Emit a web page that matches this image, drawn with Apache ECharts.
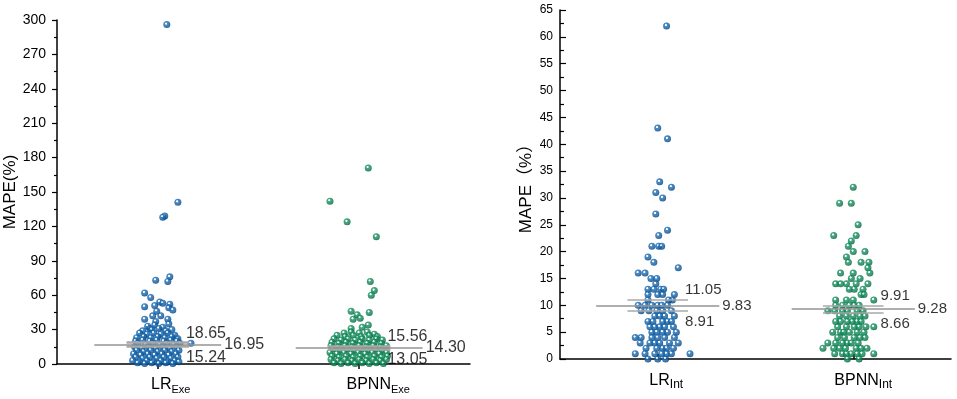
<!DOCTYPE html>
<html>
<head>
<meta charset="utf-8">
<script src="https://cdn.jsdelivr.net/npm/echarts@6/dist/echarts.min.js"></script>
<style>
  html, body { margin: 0; background: #fff; }
  #chart { width: 957px; height: 399px; }
</style>
</head>
<body>
<div id="chart"></div>
<script>
// category positions on the x value axis
const catPos = [1, 3]
const catNames = ['LR', 'BPNN']
const exeSub = 'Exe'
const intSub = 'Int'

// statistics: mean, upper and lower confidence bound
const exeMean = [16.95, 14.30]
const exeUpper = [18.65, 15.56]
const exeLower = [15.24, 13.05]
const intMean = [9.83, 9.28]
const intUpper = [11.05, 9.91]
const intLower = [8.91, 8.66]

// points: [jitter around category, MAPE]
const lrExe = [
  [0.09, 296], [0.20, 141], [0.07, 129], [0.05, 128], [0.12, 76], [-0.02, 73], [0.10, 72],
  [-0.13, 62], [-0.07, 58], [0.02, 54], [0.05, 53], [0.12, 52], [-0.03, 51], [-0.13, 50],
  [0.11, 49], [0.15, 47], [-0.01, 46], [-0.05, 42], [0.03, 42], [-0.13, 39], [0.10, 39],
  [-0.02, 37], [0.11, 35], [-0.08, 31], [0.33, 18],
  [-0.10, 33], [-0.03, 34], [0.05, 32],
  [-0.15, 29], [-0.06, 30], [0.01, 31], [0.08, 29], [0.14, 30],
  [-0.18, 27], [-0.11, 26], [-0.04, 27], [0.03, 26], [0.10, 27], [0.17, 25],
  [-0.21, 23], [-0.14, 24], [-0.07, 23], [0.00, 24], [0.07, 23], [0.14, 24], [0.20, 22],
  [-0.22, 20], [-0.15, 21], [-0.08, 20], [-0.01, 21], [0.06, 20], [0.13, 21], [0.19, 20],
  [-0.20, 18], [-0.12, 17], [-0.05, 18], [0.02, 17], [0.09, 18], [0.16, 17], [0.22, 18],
  [-0.23, 15], [-0.16, 14], [-0.09, 15], [-0.02, 14], [0.05, 15], [0.12, 14], [0.19, 15],
  [-0.21, 12], [-0.14, 11], [-0.07, 12], [0.00, 11], [0.07, 12], [0.14, 11], [0.21, 12],
  [-0.24, 9], [-0.17, 8], [-0.10, 9], [-0.03, 8], [0.04, 9], [0.11, 8], [0.18, 9],
  [-0.22, 6], [-0.15, 5], [-0.08, 6], [-0.01, 5], [0.06, 6], [0.13, 5], [0.20, 6],
  [-0.25, 3], [-0.18, 2], [-0.11, 3], [-0.04, 2], [0.03, 3], [0.10, 2], [0.17, 3], [0.21, 2],
  [-0.20, 1], [-0.13, 0.5], [-0.06, 1], [0.01, 0.5], [0.08, 1], [0.15, 0.5]
]

const bpnnExe = [
  [0.09, 171], [-0.29, 142], [-0.12, 124], [0.17, 111], [0.11, 72], [0.15, 64], [0.12, 60],
  [-0.08, 46], [0.10, 45], [-0.02, 43], [0.01, 40], [-0.06, 39], [0.09, 34], [-0.08, 31], [0.03, 32],
  [-0.15, 27], [-0.08, 28], [0.00, 27], [0.08, 28], [0.15, 26],
  [-0.22, 25], [-0.14, 24], [-0.06, 25], [0.02, 24], [0.10, 25], [0.18, 24],
  [-0.25, 22], [-0.18, 21], [-0.11, 22], [-0.04, 21], [0.03, 22], [0.10, 21], [0.17, 22], [0.23, 21],
  [-0.27, 19], [-0.20, 18], [-0.13, 19], [-0.06, 18], [0.01, 19], [0.08, 18], [0.15, 19], [0.22, 18],
  [-0.28, 16], [-0.21, 15], [-0.14, 16], [-0.07, 15], [0.00, 16], [0.07, 15], [0.14, 16], [0.21, 15], [0.27, 16],
  [-0.26, 13], [-0.19, 12], [-0.12, 13], [-0.05, 12], [0.02, 13], [0.09, 12], [0.16, 13], [0.23, 12],
  [-0.29, 10], [-0.22, 9], [-0.15, 10], [-0.08, 9], [-0.01, 10], [0.06, 9], [0.13, 10], [0.20, 9], [0.27, 10],
  [-0.27, 7], [-0.20, 6], [-0.13, 7], [-0.06, 6], [0.01, 7], [0.08, 6], [0.15, 7], [0.22, 6], [0.28, 7],
  [-0.28, 4], [-0.21, 3], [-0.14, 4], [-0.07, 3], [0.00, 4], [0.07, 3], [0.14, 4], [0.21, 3], [0.27, 4],
  [-0.25, 1], [-0.18, 0.5], [-0.11, 1], [-0.04, 0.5], [0.03, 1], [0.10, 0.5], [0.17, 1], [0.24, 0.5]
]

const lrInt = [
  [0.09, 62], [0.00, 43], [0.10, 41], [0.02, 33], [0.14, 32], [-0.02, 31], [0.05, 30],
  [-0.02, 27], [0.10, 24], [0.01, 23], [-0.06, 21], [0.01, 21], [0.04, 21],
  [-0.10, 19], [-0.04, 18], [0.21, 17], [-0.20, 16], [-0.13, 16], [-0.07, 15], [-0.01, 15],
  [-0.02, 14], [-0.10, 13], [-0.04, 13], [0.03, 13], [0.06, 13],
  [-0.10, 12], [0.00, 12], [0.05, 12], [0.17, 12], [-0.10, 11], [0.15, 11], [0.11, 11],
  [-0.20, 10], [-0.13, 10], [-0.06, 10], [0.00, 10], [0.04, 10], [0.10, 10],
  [-0.17, 9], [-0.09, 9], [-0.01, 9], [0.05, 9], [0.14, 9], [-0.03, 8], [0.02, 8], [0.07, 8], [0.17, 8],
  [-0.10, 7], [-0.05, 7], [0.05, 7], [0.10, 7], [0.14, 7],
  [-0.08, 6], [-0.03, 6], [0.02, 6], [0.07, 6], [0.16, 6],
  [-0.06, 5], [-0.01, 5], [0.05, 5], [0.10, 5], [0.19, 5],
  [-0.23, 4], [-0.17, 4], [-0.06, 4], [0.00, 4], [0.07, 4], [0.17, 4],
  [-0.18, 3], [-0.08, 3], [-0.03, 3], [0.02, 3], [0.12, 3], [0.21, 3],
  [-0.12, 2], [-0.01, 2], [0.05, 2], [0.09, 2], [0.16, 2],
  [-0.23, 1], [-0.13, 1], [-0.03, 1], [0.04, 1], [0.09, 1], [0.14, 1], [0.33, 1],
  [-0.10, 0], [0.00, 0], [0.08, 0]
]

const bpnnInt = [
  [0.00, 32], [-0.14, 29], [-0.02, 29], [0.05, 25], [-0.20, 23], [0.03, 23], [-0.02, 22],
  [-0.05, 21], [0.00, 20], [0.12, 20], [-0.07, 19], [-0.05, 18], [0.08, 18], [0.16, 18],
  [0.15, 17], [-0.13, 16], [0.00, 16], [0.17, 16], [-0.02, 15], [0.07, 15],
  [-0.18, 14], [-0.13, 14], [-0.07, 14], [0.03, 14], [0.15, 14], [-0.04, 13], [0.01, 13], [0.10, 13],
  [0.08, 12], [0.11, 12], [-0.18, 11], [-0.07, 11], [0.00, 11], [0.21, 11],
  [-0.18, 10], [-0.11, 10], [-0.04, 10], [0.01, 10], [0.06, 10],
  [-0.26, 9], [-0.19, 9], [-0.11, 9], [-0.06, 9], [0.04, 9], [0.10, 9],
  [-0.14, 8], [-0.07, 8], [0.00, 8], [0.07, 8], [0.12, 8],
  [-0.18, 7], [-0.13, 7], [-0.06, 7], [-0.01, 7], [0.04, 7], [0.08, 7],
  [-0.16, 6], [-0.07, 6], [0.01, 6], [0.06, 6], [0.13, 6], [0.21, 6],
  [-0.21, 5], [-0.13, 5], [-0.10, 5], [-0.04, 5], [0.04, 5], [0.11, 5],
  [-0.16, 4], [-0.09, 4], [0.01, 4], [0.07, 4], [0.12, 4],
  [-0.26, 3], [-0.18, 3], [-0.11, 3], [-0.06, 3], [-0.02, 3], [0.05, 3],
  [-0.31, 2], [-0.20, 2], [-0.14, 2], [-0.08, 2], [0.03, 2], [0.08, 2], [0.14, 2],
  [-0.19, 1], [-0.11, 1], [-0.07, 1], [-0.02, 1], [0.04, 1], [0.09, 1], [0.21, 1], [-0.06, 0], [0.06, 0]
]

const FONT = '"Liberation Sans", Arial, "Noto Sans CJK SC", sans-serif'

function ball(c0, c1, c2) {
  return {
    type: 'radial', x: 0.4, y: 0.36, r: 0.62,
    colorStops: [
      { offset: 0, color: '#ffffff' },
      { offset: 0.16, color: '#ffffff' },
      { offset: 0.32, color: c0 },
      { offset: 0.75, color: c1 },
      { offset: 1, color: c2 }
    ]
  }
}
const blueBall = ball('#1f6fb6', '#0b5aa0', '#053d74')
const greenBall = ball('#17935f', '#0a8152', '#055a3a')

function pointSeries(points, catIndex, color, axisIndex) {
  return {
    type: 'scatter',
    xAxisIndex: axisIndex,
    yAxisIndex: axisIndex,
    symbolSize: 7,
    itemStyle: { color: color },
    data: points.map(([j, v]) => [catPos[catIndex] + j, v]),
    z: 2
  }
}

function statLines(mean, upper, lower, axisIndex, ciWidth) {
  const meanData = mean.map((m, i) => ({ coords: [[catPos[i] - 0.63, m], [catPos[i] + 0.63, m]] }))
  const ciData = []
  upper.forEach((u, i) => {
    ciData.push({ coords: [[catPos[i] - 0.31, u], [catPos[i] + 0.31, u]] })
    ciData.push({ coords: [[catPos[i] - 0.31, lower[i]], [catPos[i] + 0.31, lower[i]]] })
  })
  return [
    {
      type: 'lines', coordinateSystem: 'cartesian2d', xAxisIndex: axisIndex, yAxisIndex: axisIndex,
      data: ciData, lineStyle: { color: '#a8a8a8', width: ciWidth, opacity: 1 }, z: 5, silent: true
    },
    {
      type: 'lines', coordinateSystem: 'cartesian2d', xAxisIndex: axisIndex, yAxisIndex: axisIndex,
      data: meanData, lineStyle: { color: '#959595', width: 1.5, opacity: 1 }, z: 6, silent: true
    }
  ]
}

function statLabels(mean, upper, lower, axisIndex, fontSize) {
  const data = []
  mean.forEach((m, i) => {
    data.push({ value: [catPos[i] + 0.63, m], label: { offset: [3, 0] } })
    data.push({ value: [catPos[i] + 0.31, upper[i]], label: { offset: [-3, -9.5] } })
    data.push({ value: [catPos[i] + 0.31, lower[i]], label: { offset: [-3, 11] } })
  })
  return {
    type: 'scatter', xAxisIndex: axisIndex, yAxisIndex: axisIndex,
    symbolSize: 0, silent: true, z: 7,
    label: {
      show: true, position: 'right', distance: 0,
      color: '#000', fontFamily: FONT, fontSize: fontSize,
      formatter: p => p.value[1].toFixed(2)
    },
    data: data
  }
}

function catLabel(sub, spacers, subSize, margin) {
  return {
    customValues: catPos,
    margin: margin,
    formatter: v => {
      const i = catPos.indexOf(v)
      return '{sp' + i + '|}{m|' + catNames[i] + '}{s|' + sub + '}'
    },
    rich: {
      sp0: { width: spacers[0] },
      sp1: { width: spacers[1] },
      m: { fontSize: 16, fontFamily: FONT, color: '#000', lineHeight: 20 },
      s: { fontSize: subSize, fontFamily: FONT, color: '#000', lineHeight: 10, verticalAlign: 'bottom' }
    }
  }
}

const chart = echarts.init(document.getElementById('chart'), null, { renderer: 'canvas' })

const option = {
  animation: false,
  backgroundColor: '#fff',
  grid: [
    { left: 57, top: 20, width: 413, height: 344 },
    { left: 560, top: 10, width: 391, height: 349 }
  ],
  xAxis: [
    {
      gridIndex: 0, type: 'value', min: 0, max: 4.1,
      axisLine: { lineStyle: { color: '#000', width: 1.5 } },
      axisTick: { customValues: catPos, length: 5, lineStyle: { color: '#000', width: 1.5 } },
      axisLabel: catLabel(exeSub, [26, 38], 11, 11),
      splitLine: { show: false }
    },
    {
      gridIndex: 1, type: 'value', min: 0, max: 4,
      axisLine: { lineStyle: { color: '#000', width: 1.5 } },
      axisTick: { customValues: catPos, inside: true, length: 5, lineStyle: { color: '#000', width: 1.5 } },
      axisLabel: catLabel(intSub, [17, 20], 12, 12),
      splitLine: { show: false }
    }
  ],
  yAxis: [
    {
      gridIndex: 0, type: 'value', min: 0, max: 300, interval: 30,
      name: 'MAPE(%)', nameLocation: 'middle', nameGap: 36,
      nameTextStyle: { fontFamily: FONT, fontSize: 17, color: '#000' },
      axisLine: { show: true, lineStyle: { color: '#000', width: 1.5 } },
      axisTick: { length: 5, lineStyle: { color: '#000', width: 1.2 } },
      minorTick: { show: true, splitNumber: 2, length: 3, lineStyle: { color: '#000', width: 1.2 } },
      axisLabel: { fontFamily: FONT, fontSize: 14, color: '#000', margin: 11 },
      splitLine: { show: false }
    },
    {
      gridIndex: 1, type: 'value', min: 0, max: 65, interval: 5,
      name: 'MAPE（%）', nameLocation: 'middle', nameGap: 25,
      nameTextStyle: { fontFamily: FONT, fontSize: 17, color: '#000' },
      axisLine: { show: true, lineStyle: { color: '#000', width: 1.5 } },
      axisTick: { inside: true, length: 6, lineStyle: { color: '#000', width: 1.2 } },
      minorTick: { show: true, splitNumber: 2, length: 4, lineStyle: { color: '#000', width: 1.2 } },
      axisLabel: { fontFamily: FONT, fontSize: 12, color: '#000', margin: 7 },
      splitLine: { show: false }
    }
  ],
  series: [
    pointSeries(lrExe, 0, blueBall, 0),
    pointSeries(bpnnExe, 1, greenBall, 0),
    pointSeries(lrInt, 0, blueBall, 1),
    pointSeries(bpnnInt, 1, greenBall, 1),
    ...statLines(exeMean, exeUpper, exeLower, 0, 2.5),
    ...statLines(intMean, intUpper, intLower, 1, 1.5),
    statLabels(exeMean, exeUpper, exeLower, 0, 16),
    statLabels(intMean, intUpper, intLower, 1, 15)
  ]
}

chart.setOption(option)
</script>
</body>
</html>
